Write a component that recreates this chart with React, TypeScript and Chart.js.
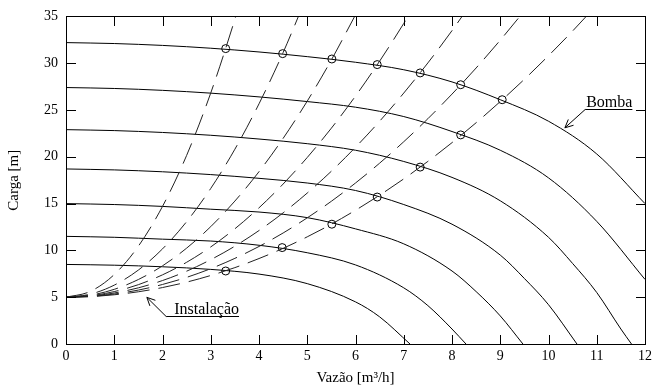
import React, { useEffect, useRef } from "react";
import { Chart, registerables } from "chart.js";

Chart.register(...registerables);

// ---- Data ----
const xLimits = [0, 12];
const yLimits = [0, 35];
const xStep = 1;
const yStep = 5;
const xTitle = "Vazão [m³/h]";
const yTitle = "Carga [m]";
const pumpLabel = "Bomba";
const systemLabel = "Instalação";

// Pump curves (Bomba) at different speeds: [Q, H]
const bomba1: [number, number][] = [
  [0, 32.2], [1, 32.1], [2, 31.9], [3, 31.6], [4, 31.2], [5, 30.7], [6, 30.1],
  [7, 29.3], [8, 28.0], [9, 26.1], [10, 23.8], [11, 20.3], [12, 15.0],
];
const bomba2: [number, number][] = [
  [0, 27.4], [1, 27.3], [2, 27.1], [3, 26.8], [4, 26.4], [5, 25.9], [6, 25.3],
  [7, 24.3], [8, 22.7], [9, 20.7], [10, 17.75], [11, 13.1], [12, 6.9],
];
const bomba3: [number, number][] = [
  [0, 22.9], [1, 22.8], [2, 22.6], [3, 22.3], [4, 21.9], [5, 21.4], [6, 20.7],
  [7, 19.5], [8, 17.8], [9, 15.3], [10, 11.4], [10.5, 8.6], [11, 5.5], [11.5, 1.6], [11.72, 0],
];
const bomba4: [number, number][] = [
  [0, 18.7], [1, 18.6], [2, 18.4], [3, 18.1], [4, 17.7], [5, 17.2], [6, 16.4],
  [7, 14.9], [8, 12.8], [9, 9.5], [9.5, 7.0], [10, 4.2], [10.59, 0],
];
const bomba5: [number, number][] = [
  [0, 15.0], [1, 14.9], [2, 14.7], [3, 14.4], [4, 14.1], [5, 13.5], [6, 12.3],
  [7, 10.7], [8, 7.8], [8.5, 5.6], [9, 3.0], [9.47, 0],
];
const bomba6: [number, number][] = [
  [0, 11.5], [1, 11.4], [2, 11.2], [3, 11.0], [4, 10.55], [5, 9.75], [6, 8.45],
  [7, 6.0], [7.5, 4.1], [8, 1.6], [8.29, 0],
];
const bomba7: [number, number][] = [
  [0, 8.5], [1, 8.42], [2, 8.25], [3, 7.97], [4, 7.47], [5, 6.45], [6, 4.5],
  [6.5, 2.9], [7.13, 0],
];

// System curves (Instalação), dashed: [Q, H]
const inst1: [number, number][] = [
  [0, 5], [0.5, 5.61], [1, 7.42], [1.5, 10.45], [2, 14.7], [2.5, 20.15], [3, 26.82], [3.5, 34.69], [3.6, 36.41],
];
const inst2: [number, number][] = [
  [0, 5], [0.5, 5.32], [1, 6.29], [1.5, 7.9], [2, 10.16], [2.5, 13.07], [3, 16.62], [3.5, 20.81],
  [4, 25.66], [4.5, 31.14], [5, 37.28],
];
const inst3: [number, number][] = [
  [0, 5], [0.5, 5.21], [1, 5.84], [1.5, 6.89], [2, 8.35], [2.5, 10.24], [3, 12.54], [3.5, 15.27],
  [4, 18.41], [4.5, 21.97], [5, 25.95], [5.5, 30.35], [6, 35.17],
];
const inst4: [number, number][] = [
  [0, 5], [0.5, 5.15], [1, 5.6], [1.5, 6.34], [2, 7.39], [2.5, 8.73], [3, 10.37], [3.5, 12.31],
  [4, 14.55], [4.5, 17.09], [5, 19.93], [5.5, 23.06], [6, 26.49], [6.5, 30.22], [7, 34.25], [7.5, 38.58],
];
const inst5: [number, number][] = [
  [0, 5], [0.5, 5.11], [1, 5.45], [1.5, 6.0], [2, 6.78], [2.5, 7.78], [3, 9.01], [3.5, 10.45],
  [4, 12.12], [4.5, 14.01], [5, 16.13], [5.5, 18.46], [6, 21.02], [6.5, 23.8], [7, 26.81], [7.5, 30.03],
  [8, 33.48], [8.5, 37.15],
];
const inst6: [number, number][] = [
  [0, 5], [0.5, 5.08], [1, 5.34], [1.5, 5.76], [2, 6.36], [2.5, 7.12], [3, 8.05], [3.5, 9.15],
  [4, 10.42], [4.5, 11.86], [5, 13.48], [5.5, 15.25], [6, 17.2], [6.5, 19.32], [7, 21.61], [7.5, 24.07],
  [8, 26.7], [8.5, 29.49], [9, 32.46], [9.5, 35.59],
];
const inst7: [number, number][] = [
  [0, 5], [0.5, 5.06], [1, 5.26], [1.5, 5.58], [2, 6.03], [2.5, 6.61], [3, 7.32], [3.5, 8.16],
  [4, 9.13], [4.5, 10.22], [5, 11.45], [5.5, 12.8], [6, 14.29], [6.5, 15.9], [7, 17.64], [7.5, 19.51],
  [8, 21.51], [8.5, 23.64], [9, 25.9], [9.5, 28.28], [10, 30.8], [10.5, 33.44], [11, 36.22],
];

// Operating points (circles)
const pontos: [number, number][] = [
  [3.31, 31.56], [4.49, 31.02], [5.51, 30.45], [6.45, 29.85], [7.34, 28.96], [8.18, 27.7], [9.04, 26.1],
  [8.18, 22.34], [7.34, 18.9], [6.45, 15.7], [5.51, 12.8], [4.48, 10.3], [3.31, 7.8],
];

const bombas = [bomba1, bomba2, bomba3, bomba4, bomba5, bomba6, bomba7];
const instalacoes = [inst1, inst2, inst3, inst4, inst5, inst6, inst7];

// Annotation anchors in data units: arrow tip and elbow of leader line
const pumpArrow = { tip: [10.34, 23.1], elbow: [10.76, 25.1] };
const systemArrow = { tip: [1.676, 4.98], elbow: [2.076, 2.99] };

const SERIF = '"Liberation Serif", "Times New Roman", serif';

const toXY = (pts: [number, number][]) => pts.map(([x, y]) => ({ x, y }));

const framePlugin = {
  id: "frameAndNotes",
  afterDraw(chart: any) {
    const ctx = chart.ctx as CanvasRenderingContext2D;
    const { left, right, top, bottom } = chart.chartArea;
    const xs = chart.scales.x;
    const ys = chart.scales.y;
    ctx.save();
    ctx.setLineDash([]);
    ctx.globalAlpha = 1;
    ctx.fillStyle = "#000";
    const L = Math.round(left);
    const R = Math.round(right);
    const T = Math.round(top);
    const B = Math.round(bottom);
    // frame
    ctx.fillRect(L, T, R - L + 1, 1);
    ctx.fillRect(L, B, R - L + 1, 1);
    ctx.fillRect(L, T, 1, B - T + 1);
    ctx.fillRect(R, T, 1, B - T + 1);
    // inward tick marks on all four sides
    const tl = 9;
    const nx = Math.round((xLimits[1] - xLimits[0]) / xStep);
    for (let i = 1; i < nx; i++) {
      const px = Math.round(xs.getPixelForValue(xLimits[0] + i * xStep));
      ctx.fillRect(px, B - tl, 1, tl);
      ctx.fillRect(px, T + 1, 1, tl);
    }
    const ny = Math.round((yLimits[1] - yLimits[0]) / yStep);
    for (let i = 1; i < ny; i++) {
      const py = Math.round(ys.getPixelForValue(yLimits[0] + i * yStep));
      ctx.fillRect(L + 1, py, tl, 1);
      ctx.fillRect(R - tl, py, tl, 1);
    }

    ctx.strokeStyle = "#000";
    ctx.lineWidth = 1;
    const drawNote = (arrow: { tip: number[]; elbow: number[] }, text: string, textGap: number) => {
      const tx = xs.getPixelForValue(arrow.tip[0]);
      const ty = ys.getPixelForValue(arrow.tip[1]);
      const ex = xs.getPixelForValue(arrow.elbow[0]);
      const ey = Math.round(ys.getPixelForValue(arrow.elbow[1])) + 0.5;
      ctx.font = `16px ${SERIF}`;
      ctx.fillStyle = "#000";
      ctx.textBaseline = "alphabetic";
      ctx.textAlign = "left";
      const textX = ex + textGap;
      const w = ctx.measureText(text).width;
      ctx.fillText(text, textX, ey - 2.5);
      ctx.beginPath();
      ctx.moveTo(tx, ty);
      ctx.lineTo(ex, ey);
      ctx.lineTo(textX + w, ey);
      const ang = Math.atan2(ey - ty, ex - tx);
      const hl = 9;
      const spread = 0.45;
      ctx.moveTo(tx + hl * Math.cos(ang + spread), ty + hl * Math.sin(ang + spread));
      ctx.lineTo(tx, ty);
      ctx.lineTo(tx + hl * Math.cos(ang - spread), ty + hl * Math.sin(ang - spread));
      ctx.stroke();
    };
    drawNote(pumpArrow, pumpLabel, 1);
    drawNote(systemArrow, systemLabel, 8);
    ctx.restore();
  },
};

export default function App() {
  const canvasRef = useRef<HTMLCanvasElement | null>(null);

  useEffect(() => {
    const canvas = canvasRef.current;
    if (!canvas) return;
    const lineBase = {
      showLine: true,
      pointRadius: 0,
      pointHoverRadius: 0,
      borderWidth: 1,
      fill: false,
      cubicInterpolationMode: "monotone" as const,
    };
    const datasets: any[] = [];
    instalacoes.forEach((c, i) => {
      datasets.push({
        ...lineBase,
        label: `${systemLabel} ${i + 1}`,
        data: toXY(c),
        borderColor: "#222",
        borderDash: [22, 9],
      });
    });
    bombas.forEach((c, i) => {
      datasets.push({
        ...lineBase,
        label: `${pumpLabel} ${i + 1}`,
        data: toXY(c),
        borderColor: "#000",
      });
    });
    datasets.push({
      label: "Pontos",
      data: toXY(pontos),
      showLine: false,
      pointStyle: "circle",
      pointRadius: 4,
      pointBorderWidth: 1,
      pointBorderColor: "#000",
      pointBackgroundColor: "rgba(0,0,0,0)",
    });

    const chart = new Chart(canvas, {
      type: "scatter",
      data: { datasets },
      options: {
        responsive: false,
        animation: false,
        devicePixelRatio: 1,
        events: [],
        layout: { padding: { left: 0, top: 16, right: 8, bottom: 0 } },
        plugins: { legend: { display: false }, tooltip: { enabled: false } },
        scales: {
          x: {
            type: "linear",
            min: xLimits[0],
            max: xLimits[1],
            ticks: {
              stepSize: xStep,
              color: "#000",
              font: { family: SERIF, size: 14 },
              padding: 4,
              maxRotation: 0,
              autoSkip: false,
            },
            grid: { display: false, drawTicks: false },
            border: { display: false },
            title: {
              display: true,
              text: xTitle,
              color: "#000",
              font: { family: SERIF, size: 15 },
              padding: { top: 0, bottom: 2 },
            },
            afterFit: (s: any) => {
              s.height = 45;
            },
          },
          y: {
            type: "linear",
            min: yLimits[0],
            max: yLimits[1],
            ticks: {
              stepSize: yStep,
              color: "#000",
              font: { family: SERIF, size: 14 },
              padding: 8,
            },
            grid: { display: false, drawTicks: false },
            border: { display: false },
            title: {
              display: true,
              text: yTitle,
              color: "#000",
              font: { family: SERIF, size: 15 },
              padding: { top: 5, bottom: 0 },
            },
            afterFit: (s: any) => {
              s.width = 66;
            },
          },
        },
      },
      plugins: [framePlugin],
    });
    return () => chart.destroy();
  }, []);

  return (
    <canvas
      ref={canvasRef}
      width={656}
      height={389}
      style={{ position: "fixed", left: 0, top: 0, width: 656, height: 389, background: "#fff" }}
    />
  );
}
